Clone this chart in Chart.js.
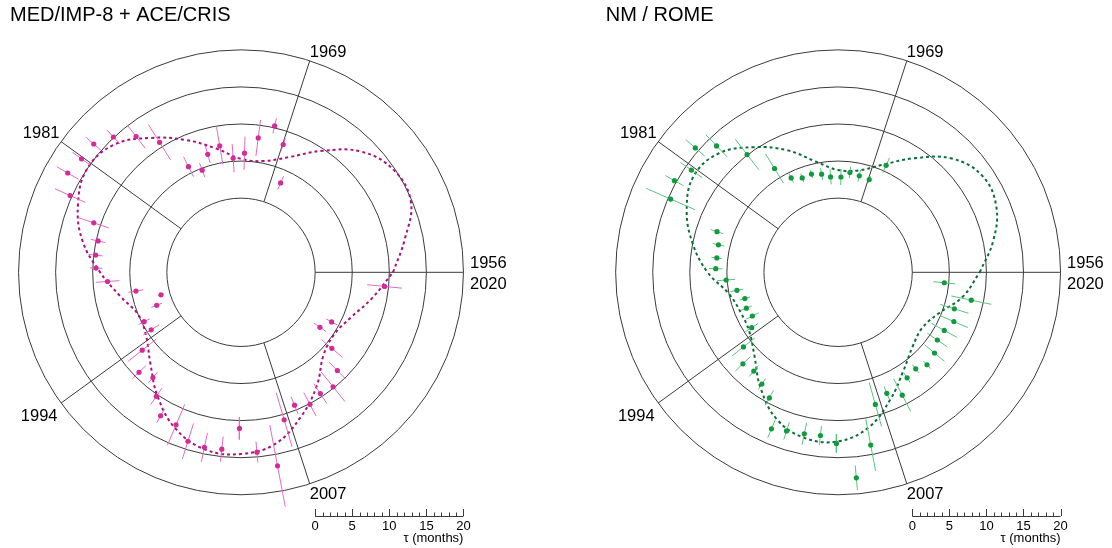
<!DOCTYPE html>
<html>
<head>
<meta charset="utf-8">
<title>Polar time-lag plots</title>
<script src="https://cdn.jsdelivr.net/npm/chart.js@4.4.1/dist/chart.umd.min.js"></script>
<style>
  html, body { margin: 0; padding: 0; background: #fff; }
  #wrap { position: relative; width: 1112px; height: 548px; }
  .panel { position: absolute; top: 0; width: 556px; height: 548px; }
</style>
</head>
<body>
<div id="wrap">
  <div class="panel" style="left:0"><canvas id="chartMed"></canvas></div>
  <div class="panel" style="left:556px"><canvas id="chartNm"></canvas></div>
</div>
<script>
// ---- data (year, time lag tau in months, error in months) ----
const medYears = [1967.75, 1968.75, 1969.7, 1970.7, 1971.7, 1972.7, 1973.7, 1974.8, 1975.7, 1976.7,
  1977.7, 1978.7, 1979.7, 1980.7, 1981.7, 1982.7, 1983.7, 1984.7, 1985.8, 1986.8,
  1987.7, 1988.7, 1989.8, 1990.8, 1991.8, 1992.8, 1993.8, 1994.8, 1995.9, 1996.9,
  1997.9, 1998.8, 1999.9, 2000.9, 2001.9, 2002.9, 2003.9, 2004.9, 2005.9, 2006.9,
  2007.9, 2008.9, 2009.9, 2010.9, 2011.9, 2012.9, 2013.8, 2014.9, 2019.0];
const medTau = [3.18, 8.15, 10.26, 8.27, 6.07, 5.42, 7.29, 6.53, 4.74, 5.91,
  10.69, 13.14, 15.08, 16.34, 16.4, 16.93, 15.26, 10.95, 9.74, 9.74,
  9.56, 8.04, 4.39, 1.21, 2.2, 4.66, 4.38, 6.97, 9.26, 8.5,
  10.25, 12.19, 12.36, 13.88, 14.11, 13.99, 11.05, 14.35, 16.56, 10.72,
  9.32, 10.09, 9.55, 9.82, 8.56, 5.98, 2.98, 3.93, 9.45];
const medErr = [0.97, 0.9, 1.05, 2.45, 2.25, 1.9, 2.54, 1.2, 1.02, 1.5,
  2.8, 2.0, 1.3, 1.36, 1.5, 1.7, 2.25, 2.15, 1.0, 0.95,
  0.85, 1.6, 1.03, 0.38, 0.78, 0.85, 1.28, 2.4, 1.27, 0.98,
  1.35, 1.07, 3.0, 2.5, 2.0, 1.7, 1.5, 1.42, 5.6, 3.8,
  1.27, 1.78, 1.6, 2.56, 1.6, 1.87, 1.0, 0.84, 2.35];

const nmYears = [1967.7, 1968.7, 1969.8, 1970.8, 1971.7, 1972.8, 1973.7, 1974.7, 1975.7, 1976.7,
  1977.6, 1978.7, 1979.8, 1980.7, 1981.8, 1982.8, 1983.8, 1984.7, 1985.7, 1986.8,
  1987.7, 1988.7, 1989.8, 1990.8, 1991.8, 1992.8, 1993.8, 1994.8, 1995.8, 1996.8,
  1997.9, 1998.9, 1999.9, 2000.8, 2001.9, 2002.9, 2003.9, 2004.9, 2005.9, 2006.8,
  2007.9, 2008.9, 2009.9, 2010.9, 2011.8, 2012.9, 2013.9, 2014.9, 2015.9, 2016.9,
  2017.9, 2019.0];
const nmTau = [5.81, 3.19, 3.32, 3.55, 2.86, 2.9, 3.42, 3.72, 3.62, 4.22,
  6.41, 10.07, 13.65, 15.54, 14.12, 15.3, 14.65, 7.23, 6.56, 6.47,
  6.51, 5.13, 3.86, 3.07, 3.28, 2.98, 3.84, 6.26, 7.81, 7.51,
  8.24, 9.31, 12.95, 12.5, 12.25, 12.14, 13.08, 17.82, 13.71, 8.51,
  7.59, 8.7, 7.0, 6.7, 7.3, 6.95, 6.2, 6.32, 6.97, 6.43,
  8.35, 4.39];
const nmErr = [1.1, 0.5, 0.8, 0.75, 1.08, 1.0, 0.8, 0.55, 0.6, 0.7,
  2.3, 2.6, 2.1, 1.7, 1.8, 1.4, 3.6, 0.9, 0.8, 0.72,
  0.92, 1.2, 0.9, 0.73, 0.78, 0.96, 1.0, 1.97, 1.4, 0.96,
  0.9, 1.16, 1.29, 1.22, 1.5, 1.3, 1.24, 1.67, 3.55, 3.09,
  0.98, 2.48, 0.75, 0.71, 0.7, 1.74, 1.62, 1.95, 2.05, 2.0,
  2.75, 1.5];

// fitted curve, read every two years
const fitYears = [1956, 1958, 1960, 1962, 1964, 1966, 1968, 1970, 1972, 1974,
  1976, 1978, 1980, 1982, 1984, 1986, 1988, 1990, 1992, 1994,
  1996, 1998, 2000, 2002, 2004, 2006, 2008, 2010, 2012, 2014,
  2016, 2018, 2020];
const medFitTau = [10.5, 12.5, 14.8, 14.8, 13.0, 9.7, 6.8, 5.3, 5.3, 7.0,
  9.3, 11.8, 14.3, 15.0, 13.8, 11.8, 9.0, 6.6, 5.0, 5.4,
  7.3, 10.2, 12.9, 14.4, 14.5, 13.6, 11.1, 8.4, 5.75, 5.1,
  6.0, 8.0, 10.5];
const nmFitTau = [9.1, 11.3, 13.1, 13.4, 11.7, 8.5, 5.7, 4.0, 3.8, 5.2,
  7.8, 10.3, 12.7, 13.4, 12.1, 10.0, 7.6, 5.0, 4.2, 4.4,
  5.95, 8.8, 11.5, 12.8, 12.8, 11.3, 8.5, 5.9, 4.2, 3.6,
  4.6, 7.1, 9.1];

// axes
const gridTau = [0, 5, 10, 15, 20];
const spokeYears = [1956, 1968.8, 1981.6, 1994.4, 2007.2];
const spokeLabels = ['1956', '1969', '1981', '1994', '2007'];
const wrapLabel = '2020';
const scaleTicks = [0, 5, 10, 15, 20];

const YEAR_START = 1956;
const YEAR_SPAN = 64;
const TAU_OFFSET = 10;   // inner circle = 0 months

const FONT = '"Liberation Sans", Arial, Helvetica, sans-serif';
const PX_X = 7.415;   // pixels per month, horizontal
const PX_Y = 7.415;   // pixels per month, vertical

function polar(year, tau) {
    const a = (year - YEAR_START) / YEAR_SPAN * 2 * Math.PI;
    const r = tau + TAU_OFFSET;
    return { x: r * Math.cos(a), y: r * Math.sin(a) };
}

// 極座標框架：圓、輻條、年份、比例尺、標題
const polarFrame = {
    id: 'polarFrame',
    beforeDatasetsDraw(chart) {
        const ctx = chart.ctx;
        const sx = chart.scales.x, sy = chart.scales.y;
        const cx = sx.getPixelForValue(0), cy = sy.getPixelForValue(0);
        ctx.save();
        ctx.strokeStyle = '#3a3a3a';
        ctx.lineWidth = 1;
        gridTau.forEach(t => {
            const r = t + TAU_OFFSET;
            ctx.beginPath();
            ctx.ellipse(cx, cy, sx.getPixelForValue(r) - cx, cy - sy.getPixelForValue(r), 0, 0, 2 * Math.PI);
            ctx.stroke();
        });
        const tMin = gridTau[0], tMax = gridTau[gridTau.length - 1];
        spokeYears.forEach(y => {
            const p0 = polar(y, tMin), p1 = polar(y, tMax);
            ctx.beginPath();
            ctx.moveTo(sx.getPixelForValue(p0.x), sy.getPixelForValue(p0.y));
            ctx.lineTo(sx.getPixelForValue(p1.x), sy.getPixelForValue(p1.y));
            ctx.stroke();
        });
        ctx.restore();
    },
    afterDatasetsDraw(chart, args, opts) {
        const ctx = chart.ctx;
        const sx = chart.scales.x, sy = chart.scales.y;
        const cy = sy.getPixelForValue(0);
        const tMax = gridTau[gridTau.length - 1];
        ctx.save();
        ctx.fillStyle = '#000';

        // 標題
        ctx.font = '20px ' + FONT;
        ctx.textAlign = 'left';
        ctx.textBaseline = 'alphabetic';
        ctx.fillText(opts.title, opts.titleX, 21);

        // 年份標籤
        ctx.font = '16.5px ' + FONT;
        spokeYears.forEach((y, i) => {
            const p = polar(y, tMax);
            const ex = sx.getPixelForValue(p.x), ey = sy.getPixelForValue(p.y);
            if (i === 0) {
                ctx.textAlign = 'left';
                ctx.textBaseline = 'alphabetic';
                ctx.fillText(spokeLabels[0], ex + 6.5, ey - 4);
                ctx.textBaseline = 'top';
                ctx.fillText(wrapLabel, ex + 6.5, ey + 4);
                return;
            }
            const right = p.x >= 0, up = p.y >= 0;
            ctx.textAlign = right ? 'left' : 'right';
            ctx.textBaseline = up ? 'alphabetic' : 'top';
            const dx = right ? 0 : (up ? -1.5 : -3.5);
            const dy = up ? -3.5 : (right ? 2 : 5.5);
            ctx.fillText(spokeLabels[i], ex + dx, ey + dy);
        });

        // 比例尺 τ (months)
        const barY = Math.round(cy) + 244;
        const x0 = sx.getPixelForValue(scaleTicks[0] + TAU_OFFSET);
        const x1 = sx.getPixelForValue(scaleTicks[scaleTicks.length - 1] + TAU_OFFSET);
        ctx.strokeStyle = '#3a3a3a';
        ctx.lineWidth = 1;
        ctx.beginPath();
        ctx.moveTo(x0, barY + 0.5);
        ctx.lineTo(x1, barY + 0.5);
        for (let m = scaleTicks[0]; m <= scaleTicks[scaleTicks.length - 1]; m++) {
            const xm = Math.round(sx.getPixelForValue(m + TAU_OFFSET)) + 0.5;
            const h = scaleTicks.includes(m) ? 7 : 3.5;
            ctx.moveTo(xm, barY);
            ctx.lineTo(xm, barY - h);
        }
        ctx.stroke();
        ctx.font = '13px ' + FONT;
        ctx.textAlign = 'center';
        ctx.textBaseline = 'middle';
        scaleTicks.forEach(t => {
            ctx.fillText(String(t), sx.getPixelForValue(t + TAU_OFFSET), barY + 10);
        });
        ctx.textAlign = 'right';
        ctx.fillText('τ (months)', x1, barY + 22);
        ctx.restore();
    }
};

function buildPanel(canvasId, cfg) {
    const points = cfg.years.map((y, i) => polar(y, cfg.tau[i]));
    const bars = [];
    cfg.years.forEach((y, i) => {
        bars.push(polar(y, cfg.tau[i] - cfg.err[i]));
        bars.push(polar(y, cfg.tau[i] + cfg.err[i]));
        bars.push({ x: null, y: null });
    });
    const fit = fitYears.map((y, i) => polar(y, cfg.fitTau[i]));

    const w = 556, h = 548;
    return new Chart(document.getElementById(canvasId), {
        type: 'scatter',
        data: {
            datasets: [
                {
                    label: 'points',
                    data: points,
                    showLine: false,
                    pointRadius: 2.6,
                    pointBackgroundColor: cfg.pointColor,
                    pointBorderColor: cfg.pointColor,
                    pointBorderWidth: 0,
                    order: 0
                },
                {
                    label: 'errors',
                    data: bars,
                    showLine: true,
                    spanGaps: false,
                    borderColor: cfg.barColor,
                    borderWidth: 1,
                    pointRadius: 0,
                    order: 1
                },
                {
                    label: 'fit',
                    data: fit,
                    showLine: true,
                    borderColor: cfg.fitColor,
                    borderWidth: 2,
                    borderDash: [3, 3],
                    tension: 0.4,
                    pointRadius: 0,
                    order: 2
                }
            ]
        },
        options: {
            responsive: true,
            maintainAspectRatio: false,
            animation: false,
            events: [],
            layout: { padding: 0, autoPadding: false },
            scales: {
                x: { type: 'linear', display: false, min: -cfg.centerX / PX_X, max: (w - cfg.centerX) / PX_X },
                y: { type: 'linear', display: false, min: -(h - cfg.centerY) / PX_Y, max: cfg.centerY / PX_Y }
            },
            plugins: {
                legend: { display: false },
                tooltip: { enabled: false },
                polarFrame: { title: cfg.title, titleX: cfg.titleX }
            }
        },
        plugins: [polarFrame]
    });
}

buildPanel('chartMed', {
    title: 'MED/IMP-8 + ACE/CRIS', titleX: 10,
    years: medYears, tau: medTau, err: medErr, fitTau: medFitTau,
    pointColor: '#d42b98', barColor: '#e56cc0', fitColor: '#a5127d',
    centerX: 241, centerY: 272.3
});
buildPanel('chartNm', {
    title: 'NM / ROME', titleX: 49.7,
    years: nmYears, tau: nmTau, err: nmErr, fitTau: nmFitTau,
    pointColor: '#129a3f', barColor: '#5cc47c', fitColor: '#0d6c37',
    centerX: 282.1, centerY: 272.3
});
</script>
</body>
</html>
